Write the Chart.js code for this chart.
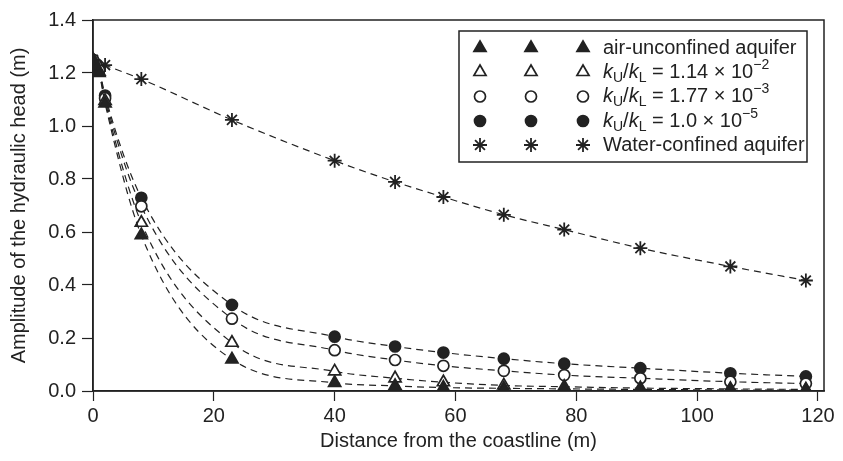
<!DOCTYPE html>
<html>
<head>
<meta charset="utf-8">
<script src="https://cdn.jsdelivr.net/npm/chart.js@4"></script>
<style>
  html, body { margin: 0; padding: 0; background: #fff; }
  #wrap { width: 843px; height: 461px; position: relative; }
</style>
</head>
<body>
<div id="wrap"><canvas id="chart"></canvas></div>
<script>
// distances (m) where the curves were sampled
const distK = [0, 0.5, 1, 2, 8, 23, 40, 50, 58, 68, 78, 90.6, 105.5, 118];
const distW = [0, 2, 8, 23, 40, 50, 58, 68, 78, 90.6, 105.5, 118];

// amplitude of the hydraulic head (m)
const airUnconfined = [1.25, 1.22, 1.20, 1.085, 0.588, 0.119, 0.031, 0.019, 0.013, 0.010, 0.008, 0.006, 0.004, 0.003];
const ratio114e2 = [1.25, 1.225, 1.205, 1.095, 0.635, 0.182, 0.074, 0.048, 0.033, 0.021, 0.016, 0.011, 0.008, 0.006];
const ratio177e3 = [1.25, 1.23, 1.21, 1.105, 0.697, 0.273, 0.154, 0.117, 0.095, 0.076, 0.060, 0.048, 0.035, 0.028];
const ratio10e5 = [1.25, 1.235, 1.215, 1.115, 0.729, 0.325, 0.205, 0.168, 0.145, 0.122, 0.103, 0.086, 0.067, 0.055];
const waterConfined = [1.25, 1.23, 1.177, 1.023, 0.869, 0.789, 0.732, 0.665, 0.609, 0.539, 0.470, 0.417];

const xTicks = [0, 20, 40, 60, 80, 100, 120];
const yTicks = [0, 0.2, 0.4, 0.6, 0.8, 1.0, 1.2, 1.4];

const ink = '#222';
const fontFamily = 'Liberation Sans, Arial, sans-serif';

const toPoints = (xs, ys) => xs.map((x, i) => ({ x: x, y: ys[i] }));

const markerSize = { triangle: 7, circle: 5.5, star: 7 };

function series(label, xs, ys, style, filled) {
    return {
        label: label,
        data: toPoints(xs, ys),
        borderColor: ink,
        borderWidth: 1.2,
        borderDash: [7, 5],
        cubicInterpolationMode: 'monotone',
        pointStyle: style,
        pointRadius: markerSize[style],
        pointBorderWidth: style === 'star' ? 1.8 : 1.7,
        pointBackgroundColor: filled ? ink : '#fff',
        pointBorderColor: ink,
        fill: false
    };
}

const datasets = [
    series('air-unconfined aquifer', distK, airUnconfined, 'triangle', true),
    series('kU/kL = 1.14e-2', distK, ratio114e2, 'triangle', false),
    series('kU/kL = 1.77e-3', distK, ratio177e3, 'circle', false),
    series('kU/kL = 1.0e-5', distK, ratio10e5, 'circle', true),
    series('Water-confined aquifer', distW, waterConfined, 'star', false)
];

// legend rows: pieces of [text, style] where style is n (normal), i (italic), sub, sup
const legendRows = [
    [['air-unconfined aquifer', 'n']],
    [['k', 'i'], ['U', 'sub'], ['/', 'n'], ['k', 'i'], ['L', 'sub'], [' = 1.14 × 10', 'n'], ['−2', 'sup']],
    [['k', 'i'], ['U', 'sub'], ['/', 'n'], ['k', 'i'], ['L', 'sub'], [' = 1.77 × 10', 'n'], ['−3', 'sup']],
    [['k', 'i'], ['U', 'sub'], ['/', 'n'], ['k', 'i'], ['L', 'sub'], [' = 1.0 × 10', 'n'], ['−5', 'sup']],
    [['Water-confined aquifer', 'n']]
];

const framePlugin = {
    id: 'frame',
    afterDatasetsDraw(chart) {
        const { ctx, chartArea: a } = chart;
        ctx.save();
        ctx.strokeStyle = ink;
        ctx.lineWidth = 1.5;
        ctx.strokeRect(a.left, a.top, a.right - a.left, a.bottom - a.top);
        ctx.restore();
    }
};

const legendPlugin = {
    id: 'boxLegend',
    afterDraw(chart) {
        const ctx = chart.ctx;
        const box = { left: 459, top: 31, right: 807, bottom: 162 };
        ctx.save();
        ctx.fillStyle = '#fff';
        ctx.fillRect(box.left, box.top, box.right - box.left, box.bottom - box.top);
        ctx.strokeStyle = ink;
        ctx.lineWidth = 1.5;
        ctx.strokeRect(box.left, box.top, box.right - box.left, box.bottom - box.top);

        const markerX = [480, 531, 583];
        const rowY = [48, 72, 96.5, 121, 145];
        chart.data.datasets.forEach((ds, i) => {
            const y = rowY[i];
            markerX.forEach(x => {
                ctx.fillStyle = ds.pointBackgroundColor;
                ctx.strokeStyle = ds.pointBorderColor;
                ctx.lineWidth = ds.pointBorderWidth;
                Chart.helpers.drawPoint(ctx, {
                    pointStyle: ds.pointStyle,
                    radius: ds.pointRadius,
                    rotation: 0,
                    borderWidth: ds.pointBorderWidth
                }, x, y);
            });
            let tx = 603;
            ctx.fillStyle = ink;
            ctx.textBaseline = 'middle';
            ctx.textAlign = 'left';
            legendRows[i].forEach(([text, kind]) => {
                let size = 20, dy = 0, style = '';
                if (kind === 'i') style = 'italic ';
                if (kind === 'sub') { size = 14; dy = 6; }
                if (kind === 'sup') { size = 14; dy = -7; }
                ctx.font = style + size + 'px ' + fontFamily;
                ctx.fillText(text, tx, y + dy);
                tx += ctx.measureText(text).width;
            });
        });
        ctx.restore();
    }
};

const tickFont = { family: fontFamily, size: 20 };

new Chart(document.getElementById('chart'), {
    type: 'line',
    data: { datasets: datasets },
    options: {
        responsive: true,
        maintainAspectRatio: false,
        animation: false,
        layout: { padding: { top: 20, right: 19, left: 0, bottom: 0 } },
        plugins: {
            legend: { display: false },
            tooltip: { enabled: false }
        },
        scales: {
            x: {
                type: 'linear',
                min: 0,
                max: 121,
                afterBuildTicks: scale => { scale.ticks = xTicks.map(v => ({ value: v })); },
                afterFit: scale => { scale.height = 70; },
                grid: { drawOnChartArea: false, tickLength: 10, color: ink, tickWidth: 1.2 },
                border: { color: ink, width: 1.5 },
                ticks: { color: ink, font: tickFont, padding: 3, maxRotation: 0 },
                title: {
                    display: true,
                    text: 'Distance from the coastline (m)',
                    color: ink,
                    font: { family: fontFamily, size: 20 },
                    padding: { top: 0, bottom: 8 }
                }
            },
            y: {
                type: 'linear',
                min: 0,
                max: 1.4,
                afterBuildTicks: scale => { scale.ticks = yTicks.map(v => ({ value: v })); },
                afterFit: scale => { scale.width = 93; },
                grid: { drawOnChartArea: false, tickLength: 11, color: ink, tickWidth: 1.2 },
                border: { color: ink, width: 1.5 },
                ticks: { color: ink, font: tickFont, padding: 6, callback: v => v.toFixed(1) },
                title: {
                    display: true,
                    text: 'Amplitude of the hydraulic head (m)',
                    color: ink,
                    font: { family: fontFamily, size: 20 },
                    padding: { top: 7, bottom: 0 }
                }
            }
        }
    },
    plugins: [framePlugin, legendPlugin]
});
</script>
</body>
</html>
